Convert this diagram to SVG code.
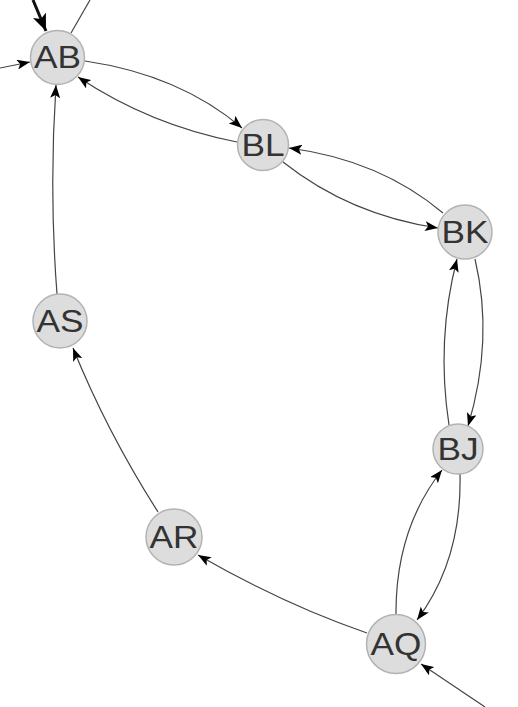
<svg xmlns="http://www.w3.org/2000/svg" width="518" height="707" viewBox="0 0 518 707">
<style>
.node circle{fill:#dddddd;stroke:#b3b3b3;stroke-width:1.5}
.node text{font-family:"Liberation Sans",Arial,sans-serif;font-size:32px;fill:#333333;text-anchor:middle;dominant-baseline:central}
.edge{fill:none;stroke:#444444;stroke-width:1.2}
.thick{fill:none;stroke:#111111;stroke-width:3}
</style>
<defs>
<marker id="arr" markerUnits="userSpaceOnUse" markerWidth="14" markerHeight="10" refX="13" refY="5" orient="auto">
<path d="M0,0 L13,5 L0,10 L3,5 Z" fill="#000"/>
</marker>
<marker id="arrBig" markerUnits="userSpaceOnUse" markerWidth="18" markerHeight="14" refX="17" refY="7" orient="auto">
<path d="M0,0 L17,7 L0,14 L4,7 Z" fill="#000"/>
</marker>
</defs>
<g id="connectors">
<path class="thick" d="M33,0 L46,31" marker-end="url(#arrBig)"/>
<path class="edge" d="M71,33 L90,0"/>
<path class="edge" d="M0,68 L30,62" marker-end="url(#arr)"/>
<path class="edge" d="M85,61 Q180,75 242,128" marker-end="url(#arr)"/>
<path class="edge" d="M237,142 Q150,125 78,77" marker-end="url(#arr)"/>
<path class="edge" d="M443,213 Q380,160 289,148" marker-end="url(#arr)"/>
<path class="edge" d="M283,162 Q350,215 438,228" marker-end="url(#arr)"/>
<path class="edge" d="M449,425 Q436,340 457,259" marker-end="url(#arr)"/>
<path class="edge" d="M475,259 Q494,340 468,426" marker-end="url(#arr)"/>
<path class="edge" d="M396,616 Q395,530 442,470" marker-end="url(#arr)"/>
<path class="edge" d="M460,474 Q462,560 417,620" marker-end="url(#arr)"/>
<path class="edge" d="M485,707 L421,664" marker-end="url(#arr)"/>
<path class="edge" d="M367,633 Q285,605 198,555" marker-end="url(#arr)"/>
<path class="edge" d="M158,512 Q107,432 73,348" marker-end="url(#arr)"/>
<path class="edge" d="M57,294 Q49,190 56,85" marker-end="url(#arr)"/>
</g>
<g id="AB" class="node"><circle cx="57.5" cy="57.5" r="27"/><text transform="translate(57.5,57.5) scale(1.1,1)">AB</text></g>
<g id="BL" class="node"><circle cx="263" cy="145" r="25.5"/><text transform="translate(263,145) scale(1.1,1)">BL</text></g>
<g id="BK" class="node"><circle cx="465" cy="232" r="27"/><text transform="translate(465,232) scale(1.1,1)">BK</text></g>
<g id="AS" class="node"><circle cx="60" cy="321" r="27"/><text transform="translate(60,321) scale(1.1,1)">AS</text></g>
<g id="BJ" class="node"><circle cx="458" cy="449" r="25"/><text transform="translate(458,449) scale(1.1,1)">BJ</text></g>
<g id="AR" class="node"><circle cx="174" cy="537" r="28"/><text transform="translate(174,537) scale(1.1,1)">AR</text></g>
<g id="AQ" class="node"><circle cx="396" cy="644" r="29.5"/><text transform="translate(396,644) scale(1.1,1)">AQ</text></g>
</svg>
